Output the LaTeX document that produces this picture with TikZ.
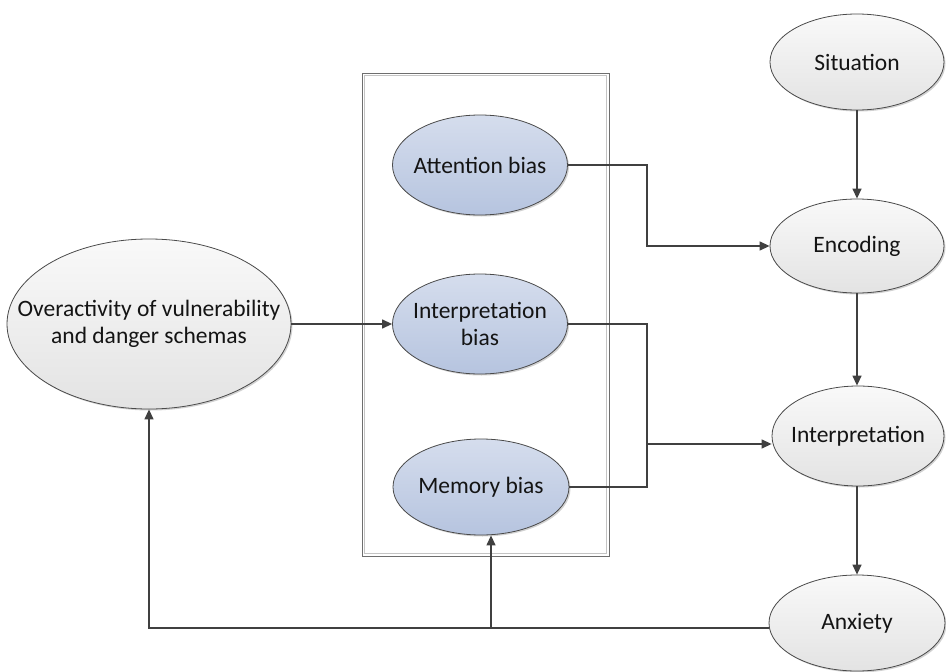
\documentclass[tikz,border=0pt]{standalone}
\usepackage{fontspec}
\setmainfont{Carlito}
\usetikzlibrary{shapes.geometric,arrows.meta,shadows}
\definecolor{edgegray}{HTML}{404040}
\definecolor{rimgray}{HTML}{4A4A4A}
\definecolor{fillhi}{HTML}{F9F9F9}
\definecolor{filllo}{HTML}{E3E3E3}
\definecolor{bluehi}{HTML}{D5DDED}
\definecolor{bluelo}{HTML}{B6C4DF}
\definecolor{frameout}{HTML}{6E6E6E}
\definecolor{framein}{HTML}{C4C4C4}
\definecolor{txt}{HTML}{141414}
\tikzset{
  oval/.style={ellipse, draw=rimgray, line width=0.8pt, inner sep=0pt,
    drop shadow={shadow xshift=1.5pt, shadow yshift=-1.5pt, fill=black, opacity=0.18}},
  grayoval/.style={oval, top color=fillhi, bottom color=filllo},
  blueoval/.style={oval, top color=bluehi, bottom color=bluelo},
  lbl/.style={align=center, font=\fontsize{23.5}{27}\selectfont, text=txt, inner sep=0pt, label distance=0pt},
  conn/.style={draw=edgegray, line width=1.3pt},
  arr/.style={conn, -{Triangle[length=10pt,width=9pt]}},
}
\begin{document}
\begin{tikzpicture}[x=1pt,y=-1pt]
\useasboundingbox (0,0) rectangle (946,672);
% frame
\node[draw=frameout, line width=1pt, minimum width=247pt, minimum height=483pt, inner sep=0pt] (frame) at (485.5,314.5) {};
\node[draw=framein, line width=0.8pt, minimum width=242pt, minimum height=478pt, inner sep=0pt] (frameinner) at (485.5,314.5) {};
% right column
\node[grayoval, minimum width=174pt, minimum height=96pt, label={[lbl]center:Situation}] (sit) at (857,62) {};
\node[grayoval, minimum width=174pt, minimum height=94pt, label={[lbl]center:Encoding}] (enc) at (857,246) {};
\node[grayoval, minimum width=172pt, minimum height=100pt, label={[lbl]center:Interpretation}] (interp) at (858,436) {};
\node[grayoval, minimum width=176pt, minimum height=96pt, label={[lbl]center:Anxiety}] (anx) at (857,623) {};
% biases
\node[blueoval, minimum width=175pt, minimum height=100pt, label={[lbl]center:Attention bias}] (att) at (480,165) {};
\node[blueoval, minimum width=175pt, minimum height=100pt, label={[lbl]center:{Interpretation\\bias}}] (ib) at (480,324) {};
\node[blueoval, minimum width=176pt, minimum height=96pt, label={[lbl]center:Memory bias}] (mem) at (481,487) {};
% schemas
\node[grayoval, minimum width=284pt, minimum height=170pt, label={[lbl]center:{Overactivity of vulnerability\\and danger schemas}}] (over) at (149,324) {};
% junction coordinates
\coordinate (ja) at (647,200);
\coordinate (jb) at (647,444);
\coordinate (bl) at (149,628);
\coordinate (bm) at (491,628);
% connectors
\draw[arr] (sit) -- (enc);
\draw[arr] (enc) -- (enc.south |- interp.north);
\draw[arr] (interp.south -| anx.north) -- (anx);
\draw[arr] (att.east) -| (ja) |- (enc.west);
\draw[conn] (ib.east) -| (jb);
\draw[conn] (mem.east) -| (jb);
\draw[arr] (jb) -- (interp.west |- jb);
\draw[arr] (over.east) -- (ib.west);
\draw[arr] (anx.west |- bl) -- (bl) -- (over.south);
\draw[arr] (bm) -- (bm |- mem.south);
\end{tikzpicture}
\end{document}
